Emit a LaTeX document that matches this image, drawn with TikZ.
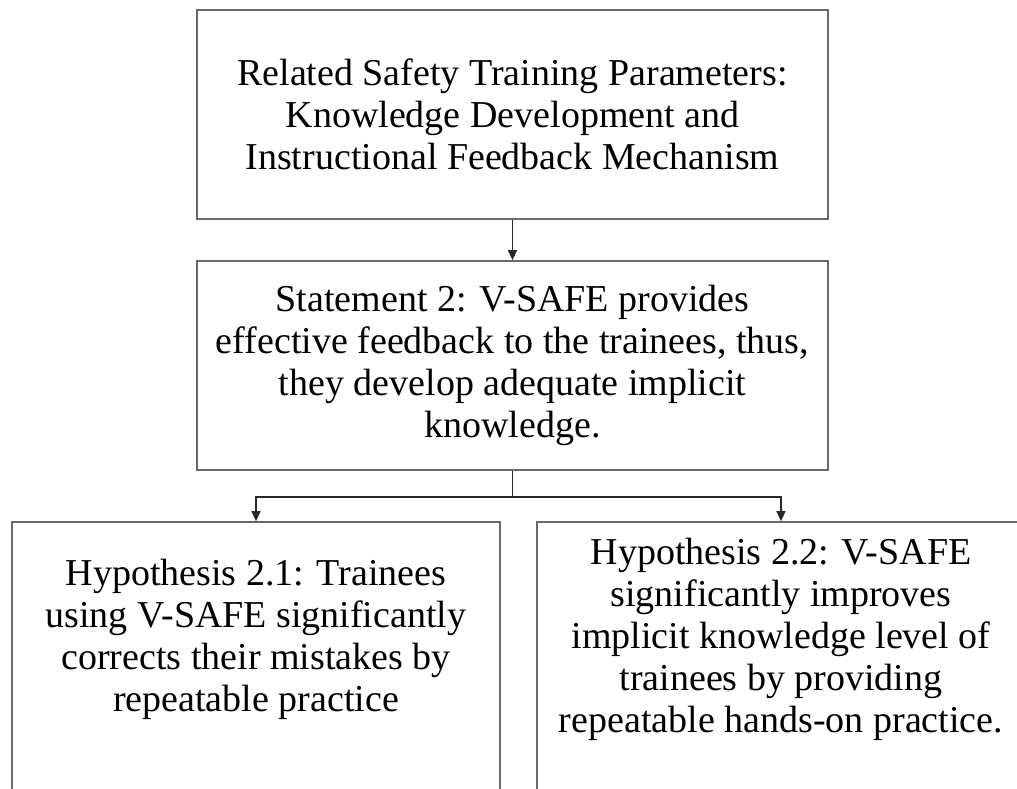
\documentclass[tikz,border=0pt]{standalone}
\usepackage{fontspec}
\setmainfont{Liberation Serif}
\usetikzlibrary{arrows.meta}
\definecolor{boxline}{RGB}{105,105,105}
\definecolor{linkline}{RGB}{40,40,40}
\begin{document}
\begin{tikzpicture}[x=1pt,y=-1pt,
  frame/.style={draw=boxline,line width=1.7pt,rectangle,inner sep=0pt},
  label/.style={align=center,inner sep=0pt,font=\fontsize{38}{42}\selectfont},
  link/.style={draw=linkline,line width=1.3pt,-{Triangle[length=10pt,width=9pt]}}]
\useasboundingbox (0,0) rectangle (1017,789);
\clip (0,0) rectangle (1017,789);
\fill[white] (0,0) rectangle (1017,789);

% upper boxes
\node[frame,minimum width=631pt,minimum height=209pt,label] (params) at (512.5,114.5)
  {Related Safety Training Parameters:\\Knowledge Development and\\Instructional Feedback Mechanism};
\node[frame,minimum width=631pt,minimum height=209pt,label] (stmt) at (512.5,365.5)
  {Statement 2: V-SAFE provides\\effective feedback to the trainees, thus,\\they develop adequate implicit\\knowledge.};

% hypothesis boxes (run past the lower edge)
\node[frame,minimum width=488pt,minimum height=298pt] (hypA) at (256,671) {};
\node[frame,minimum width=488pt,minimum height=298pt] (hypB) at (781,671) {};
\node[label] (hypAtext) at (256,639)
  {Hypothesis 2.1: Trainees\\using V-SAFE significantly\\corrects their mistakes by\\repeatable practice};
\node[label] (hypBtext) at (781,639)
  {Hypothesis 2.2: V-SAFE\\significantly improves\\implicit knowledge level of\\trainees by providing\\repeatable hands-on practice.};

% connectors
\coordinate (split) at (512.5,497);
\draw[link] (params.south) -- (stmt.north);
\draw[draw=linkline,line width=1.3pt] (stmt.south) -- (split);
\draw[link] (split) -| (hypA.north);
\draw[link] (split) -| (hypB.north);
\end{tikzpicture}
\end{document}
